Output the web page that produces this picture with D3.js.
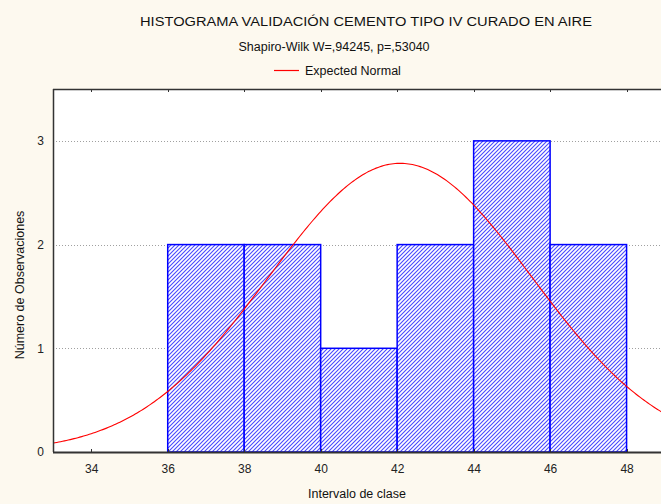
<!DOCTYPE html>
<html><head><meta charset="utf-8">
<script src="https://cdn.jsdelivr.net/npm/d3@7"></script>
<style>
html,body{margin:0;padding:0;background:#fdf9ef;}
svg{display:block;font-family:"Liberation Sans",Arial,sans-serif;}
</style></head>
<body>
<svg id="chart" width="661" height="504"></svg>
<script>
const binStarts = [36, 38, 40, 42, 44, 46];
const binWidth = 2;
const counts = [2, 2, 1, 2, 3, 2];
const xTicks = [34, 36, 38, 40, 42, 44, 46, 48];
const yTicks = [0, 1, 2, 3];
const normalMean = 42.08;
const normalSD = 3.44;
const titleText = "HISTOGRAMA VALIDACIÓN CEMENTO TIPO IV CURADO EN AIRE";
const subtitleText = "Shapiro-Wilk W=,94245, p=,53040";
const legendText = "Expected Normal";

const svg = d3.select("#chart");
const W = 661, H = 504;
const m = {l: 53, t: 89, r: 0, b: 52};
const pw = W - m.l - m.r, ph = H - m.t - m.b;

const x = d3.scaleLinear().domain([33.0, 48.9]).range([m.l, m.l + pw]);
const y = d3.scaleLinear().domain([0, 3.5]).range([m.t + ph, m.t]);

svg.append("rect").attr("width", W).attr("height", H).attr("fill", "#fdf9ef");
svg.append("rect").attr("x", m.l).attr("y", m.t).attr("width", pw).attr("height", ph).attr("fill", "#ffffff");

const defs = svg.append("defs");
const pat = defs.append("pattern").attr("id", "hatch").attr("patternUnits", "userSpaceOnUse")
  .attr("width", 4).attr("height", 4);
pat.append("rect").attr("width", 4).attr("height", 4).attr("fill", "#ffffff");
pat.append("path").attr("d", "M-1,1 l2,-2 M0,4 l4,-4 M3,5 l2,-2")
  .attr("stroke", "#4848ff").attr("stroke-width", 1.1);
defs.append("clipPath").attr("id", "clip").append("rect")
  .attr("x", m.l).attr("y", m.t).attr("width", pw).attr("height", ph);

// gridlines
svg.append("g").selectAll("line").data(yTicks.filter(d => d > 0)).join("line")
  .attr("x1", m.l).attr("x2", m.l + pw)
  .attr("y1", d => Math.round(y(d)) + 0.5).attr("y2", d => Math.round(y(d)) + 0.5)
  .attr("stroke", "#a0a0a0").attr("stroke-dasharray", "1,2").attr("stroke-width", 1);

// bars
svg.append("g").selectAll("rect").data(binStarts).join("rect")
  .attr("x", d => x(d)).attr("width", d => x(d + binWidth) - x(d))
  .attr("y", (d, i) => y(counts[i])).attr("height", (d, i) => y(0) - y(counts[i]))
  .attr("fill", "url(#hatch)").attr("stroke", "#0000ff").attr("stroke-width", 1.5);

// normal curve
const curveX = d3.range(33.0, 48.95, 0.05);
const peak = d3.sum(counts) * binWidth / (normalSD * Math.sqrt(2 * Math.PI));
const line = d3.line()
  .x(d => x(d))
  .y(d => y(peak * Math.exp(-0.5 * Math.pow((d - normalMean) / normalSD, 2))));
svg.append("path").datum(curveX).attr("d", line).attr("clip-path", "url(#clip)")
  .attr("fill", "none").attr("stroke", "#ff0000").attr("stroke-width", 1.1);

// axes
const xAxis = d3.axisBottom(x).tickValues(xTicks).tickSize(0).tickPadding(12);
const gx = svg.append("g").attr("transform", `translate(0,${m.t + ph})`).call(xAxis);
gx.select(".domain").remove();
gx.selectAll("text").attr("font-size", 12).attr("fill", "#222").attr("font-family", "Liberation Sans, Arial, sans-serif");
// inner ticks bottom and top
svg.append("g").selectAll("line").data(xTicks).join("line")
  .attr("x1", d => Math.round(x(d)) + 0.5).attr("x2", d => Math.round(x(d)) + 0.5)
  .attr("y1", m.t + ph).attr("y2", m.t + ph - 3).attr("stroke", "#333");
svg.append("g").selectAll("line").data(xTicks).join("line")
  .attr("x1", d => Math.round(x(d)) + 0.5).attr("x2", d => Math.round(x(d)) + 0.5)
  .attr("y1", m.t).attr("y2", m.t + 3).attr("stroke", "#333");

const yAxis = d3.axisLeft(y).tickValues(yTicks).tickSize(0).tickPadding(9).tickFormat(d3.format("d"));
const gy = svg.append("g").attr("transform", `translate(${m.l},0)`).call(yAxis);
gy.select(".domain").remove();
gy.selectAll("text").attr("font-size", 12).attr("fill", "#222").attr("font-family", "Liberation Sans, Arial, sans-serif");

// frame
svg.append("line").attr("x1", m.l).attr("x2", W).attr("y1", m.t + ph + 0.5).attr("y2", m.t + ph + 0.5)
  .attr("stroke", "#333").attr("stroke-width", 2);
svg.append("line").attr("x1", m.l).attr("x2", W).attr("y1", m.t + 0.5).attr("y2", m.t + 0.5)
  .attr("stroke", "#333").attr("stroke-width", 1.5);
svg.append("line").attr("x1", m.l + 0.5).attr("x2", m.l + 0.5).attr("y1", m.t).attr("y2", m.t + ph)
  .attr("stroke", "#333").attr("stroke-width", 1.5);

// titles
svg.append("text").attr("x", 366).attr("y", 26).attr("text-anchor", "middle")
  .attr("font-size", 12.5).attr("fill", "#111").attr("textLength", 452).attr("lengthAdjust", "spacingAndGlyphs")
  .text(titleText);
svg.append("text").attr("x", 334).attr("y", 51).attr("text-anchor", "middle")
  .attr("font-size", 12.5).attr("fill", "#111").text(subtitleText);
svg.append("line").attr("x1", 274).attr("x2", 299).attr("y1", 70.5).attr("y2", 70.5)
  .attr("stroke", "#ff0000").attr("stroke-width", 1.2);
svg.append("text").attr("x", 305).attr("y", 75).attr("font-size", 12.5).attr("fill", "#111").text(legendText);

svg.append("text").attr("x", 357).attr("y", 498).attr("text-anchor", "middle")
  .attr("font-size", 12.5).attr("fill", "#111").text("Intervalo de clase");
svg.append("text").attr("transform", "translate(24,285) rotate(-90)").attr("text-anchor", "middle")
  .attr("font-size", 12.5).attr("fill", "#111").text("Número de Observaciones");
</script>
</body></html>
